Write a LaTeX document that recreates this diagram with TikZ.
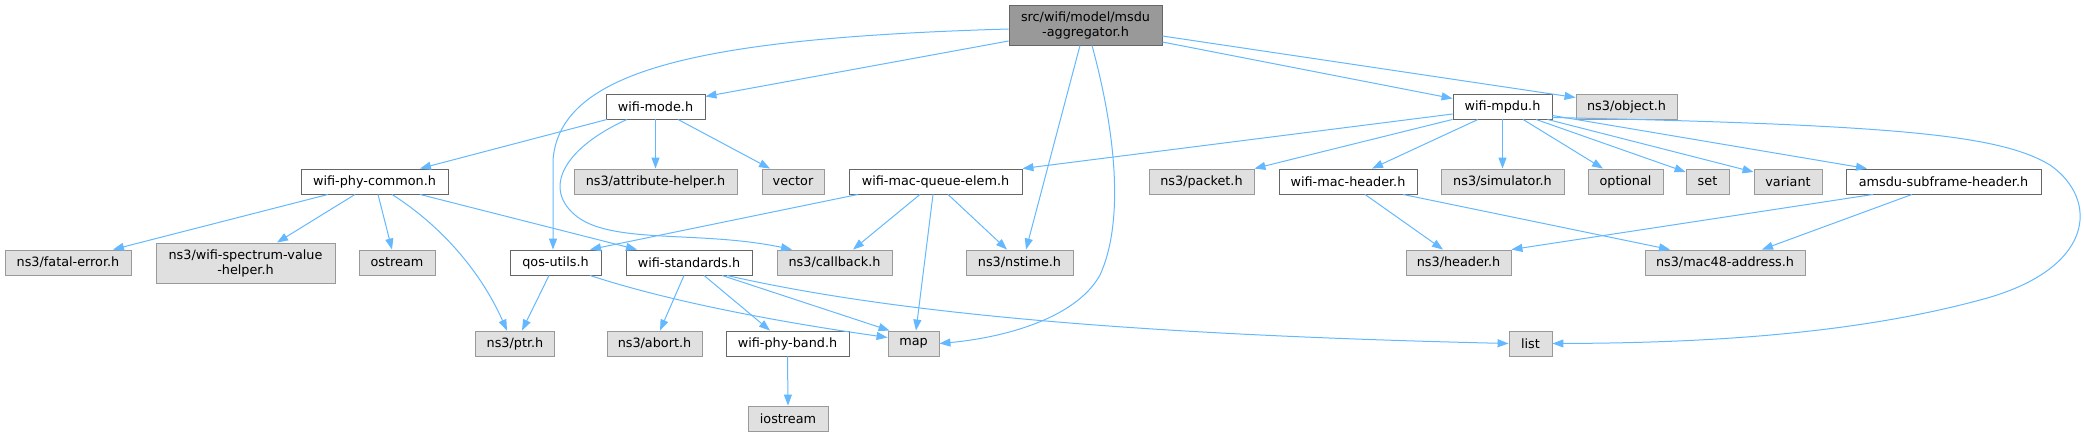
\documentclass[tikz,border=0pt]{standalone}
\usepackage{fontspec}
\setmainfont{DejaVu Sans}
\usetikzlibrary{arrows.meta}
\definecolor{edgeblue}{HTML}{63B8FF}
\definecolor{mainfill}{HTML}{999999}
\definecolor{mainborder}{HTML}{666666}
\definecolor{extfill}{HTML}{E0E0E0}
\definecolor{extborder}{HTML}{999999}
\tikzset{
  box/.style={rectangle, inner sep=0pt, minimum height=25pt, line width=0.9pt,
    font=\fontsize{12.8pt}{15pt}\selectfont, align=center},
  mainbox/.style={box, fill=mainfill, draw=mainborder},
  intbox/.style={box, fill=white, draw=mainborder},
  extbox/.style={box, fill=extfill, draw=extborder},
  edge/.style={draw=edgeblue, line width=1pt, -{Triangle[length=11pt,width=8pt]}, fill=none},
}
\begin{document}
\begin{tikzpicture}[x=1pt,y=-1pt]
\useasboundingbox (0,0) rectangle (2084,437);
% row 1
\node[mainbox, minimum width=153pt, minimum height=40pt] (main) at (1085.5,25) {src/wifi/model/msdu\\-aggregator.h};
% row 2
\node[intbox, minimum width=99pt] (wmode) at (655.5,106.5) {wifi-mode.h};
\node[intbox, minimum width=99pt] (wmpdu) at (1502.5,106.5) {wifi-mpdu.h};
\node[extbox, minimum width=101pt] (object) at (1626.5,106.5) {ns3/object.h};
% row 3
\node[intbox, minimum width=147pt] (wpc) at (374.5,181.5) {wifi-phy-common.h};
\node[extbox, minimum width=163pt] (attr) at (655.5,181.5) {ns3/attribute-helper.h};
\node[extbox, minimum width=62pt] (vector) at (793,181.5) {vector};
\node[intbox, minimum width=173pt] (wmqe) at (935.5,181.5) {wifi-mac-queue-elem.h};
\node[extbox, minimum width=105pt] (packet) at (1201.5,181.5) {ns3/packet.h};
\node[intbox, minimum width=138pt] (wmh) at (1348,181.5) {wifi-mac-header.h};
\node[extbox, minimum width=123pt] (sim) at (1502.5,181.5) {ns3/simulator.h};
\node[extbox, minimum width=75pt] (optional) at (1625.5,181.5) {optional};
\node[extbox, minimum width=43pt] (set) at (1707.5,181.5) {set};
\node[extbox, minimum width=68pt] (variant) at (1788,181.5) {variant};
\node[intbox, minimum width=195pt] (amsdu) at (1943.5,181.5) {amsdu-subframe-header.h};
% row 4
\node[extbox, minimum width=126pt] (fatal) at (68,262.5) {ns3/fatal-error.h};
\node[extbox, minimum width=179pt, minimum height=40pt] (spectrum) at (245.5,263) {ns3/wifi-spectrum-value\\-helper.h};
\node[extbox, minimum width=76pt] (ostream) at (397,262.5) {ostream};
\node[intbox, minimum width=91pt] (qos) at (555.5,262.5) {qos-utils.h};
\node[intbox, minimum width=126pt] (wstd) at (689,262.5) {wifi-standards.h};
\node[extbox, minimum width=115pt] (callback) at (834.5,262.5) {ns3/callback.h};
\node[extbox, minimum width=107pt] (nstime) at (1019.5,262.5) {ns3/nstime.h};
\node[extbox, minimum width=105pt] (header) at (1458.5,262.5) {ns3/header.h};
\node[extbox, minimum width=160pt] (mac48) at (1725,262.5) {ns3/mac48-address.h};
% row 5
\node[extbox, minimum width=79pt] (ptr) at (515,343.5) {ns3/ptr.h};
\node[extbox, minimum width=95pt] (abort) at (654.5,343.5) {ns3/abort.h};
\node[intbox, minimum width=123pt] (wpb) at (787.5,343.5) {wifi-phy-band.h};
\node[extbox, minimum width=51pt] (map) at (913.5,343.5) {map};
\node[extbox, minimum width=43pt] (list) at (1530.5,343.5) {list};
% row 6
\node[extbox, minimum width=80pt] (iostream) at (788,418.5) {iostream};

% edges from main
\draw[edge] ([yshift=-4pt]main.west) .. controls (700,38) and (560,70) .. (553,160) -- ([xshift=-2.5pt]qos.north);
\draw[edge] ([yshift=-16pt]main.west) -- ([yshift=10pt]wmode.east);
\draw[edge] ([xshift=-5.5pt]main.south) -- ([xshift=6.5pt]nstime.north);
\draw[edge] ([xshift=6.5pt]main.south) .. controls (1115,130) and (1125,220) .. (1100,275) .. controls (1075,320) and (1000,338) .. (map.east);
\draw[edge] ([yshift=-11pt]main.east) -- ([yshift=9pt]object.west);
\draw[edge] ([yshift=-17pt]main.east) -- ([yshift=8pt]wmpdu.west);
% edges from wifi-mode.h
\draw[edge] ([xshift=-48.5pt]wmode.south) -- ([xshift=45.5pt]wpc.north);
\draw[edge] (wmode.south) -- (attr.north);
\draw[edge] ([xshift=22.5pt]wmode.south) -- ([xshift=-23pt]vector.north);
\draw[edge] ([xshift=-28.5pt]wmode.south) .. controls (570,145) and (540,185) .. (575,215) .. controls (610,245) and (700,230) .. ([xshift=-42.5pt]callback.north);
% edges from wifi-phy-common.h
\draw[edge] ([xshift=-46.5pt]wpc.south) -- ([xshift=45pt]fatal.north);
\draw[edge] ([xshift=-19.5pt]wpc.south) -- ([xshift=31.5pt]spectrum.north);
\draw[edge] ([xshift=3.5pt]wpc.south) -- ([xshift=-5pt]ostream.north);
\draw[edge] ([xshift=17.5pt]wpc.south) .. controls (440,225) and (480,270) .. ([xshift=-8pt]ptr.north);
\draw[edge] ([xshift=45.5pt]wpc.south) -- ([xshift=-52pt]wstd.north);
% edges from wifi-mpdu.h
\draw[edge] ([yshift=-7.5pt]wmpdu.west) -- (wmqe.north east);
\draw[edge] (wmpdu.south west) -- (packet.north east);
\draw[edge] ([xshift=-24.5pt]wmpdu.south) -- ([xshift=24pt]wmh.north);
\draw[edge] (wmpdu.south) -- (sim.north);
\draw[edge] ([xshift=20.5pt]wmpdu.south) -- ([xshift=-22.5pt]optional.north);
\draw[edge] ([xshift=33.5pt]wmpdu.south) -- ([yshift=9.5pt]set.west);
\draw[edge] ([xshift=45pt]wmpdu.south) -- ([yshift=9.5pt]variant.west);
\draw[edge] ([yshift=-9pt]wmpdu.east) -- ([xshift=-76.5pt]amsdu.north);
\draw[edge] ([yshift=-11pt]wmpdu.east) .. controls (1900,125) and (2000,135) .. (2050,165) .. controls (2100,200) and (2095,270) .. (1980,300) .. controls (1850,335) and (1700,343) .. (list.east);
% edges from wifi-mac-queue-elem.h
\draw[edge] ([xshift=-77.5pt]wmqe.south) -- ([xshift=34.5pt]qos.north);
\draw[edge] ([xshift=-15.5pt]wmqe.south) -- ([xshift=18.5pt]callback.north);
\draw[edge] ([xshift=-2.5pt]wmqe.south) -- ([xshift=2.5pt]map.north);
\draw[edge] ([xshift=12.5pt]wmqe.south) -- ([xshift=-12.5pt]nstime.north);
% edges from qos-utils.h
\draw[edge] ([xshift=-6.5pt]qos.south) -- ([xshift=7pt]ptr.north);
\draw[edge] ([xshift=34.5pt]qos.south) .. controls (680,305) and (800,325) .. ([yshift=6pt]map.west);
% edges from wifi-standards.h
\draw[edge] ([xshift=-5pt]wstd.south) -- ([xshift=5.5pt]abort.north);
\draw[edge] ([xshift=15pt]wstd.south) -- ([xshift=-17.5pt]wpb.north);
\draw[edge] ([xshift=33pt]wstd.south) -- ([xshift=2pt]map.north west);
\draw[edge] ([xshift=38pt]wstd.south) .. controls (900,315) and (1150,335) .. (list.west);
% wifi-phy-band.h
\draw[edge] (wpb.south) -- (iostream.north);
% wifi-mac-header.h
\draw[edge] ([xshift=17pt]wmh.south) -- ([xshift=-15.5pt]header.north);
\draw[edge] ([xshift=55pt]wmh.south) -- ([xshift=-55pt]mac48.north);
% amsdu-subframe-header.h
\draw[edge] ([xshift=-70.5pt]amsdu.south) -- (header.north east);
\draw[edge] ([xshift=-31.5pt]amsdu.south) -- ([xshift=37pt]mac48.north);
\end{tikzpicture}
\end{document}
